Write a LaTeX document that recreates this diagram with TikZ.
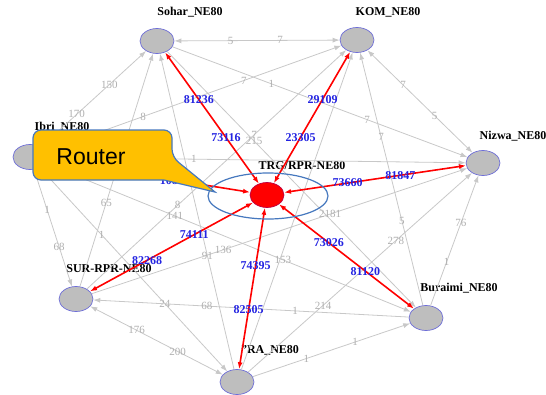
\documentclass[tikz,border=0pt]{standalone}
\usepackage{fontspec}
\setmainfont{Liberation Serif}
\newfontfamily\calloutfont{Liberation Sans}
\usetikzlibrary{
	shapes.geometric,
	arrows.meta,
	positioning
}
\definecolor{LinkGray}{RGB}{200,200,200}
\definecolor{WeightGray}{RGB}{175,175,175}
\definecolor{SiteGray}{RGB}{190,190,190}
\definecolor{SiteBorder}{RGB}{110,110,215}
\definecolor{FlowBlue}{RGB}{35,35,225}
\definecolor{CalloutOrange}{RGB}{255,192,0}
\definecolor{CalloutBlue}{RGB}{70,120,190}

\begin{document}
\begin{tikzpicture}[
		x=1pt, y=-1pt,
		site/.style={ellipse, draw=SiteBorder, fill=SiteGray, line width=0.7pt, minimum width=34pt, minimum height=25pt, inner sep=0pt},
		hub/.style={site, fill=red, draw=red!75!blue},
		sitename/.style={font=\fontsize{12}{12}\selectfont\bfseries, inner sep=0pt},
		link/.style={draw=LinkGray, line width=0.8pt, -{Latex[length=7pt,width=5pt]}},
		twoway/.style={link, {Latex[length=7pt,width=5pt]}-{Latex[length=7pt,width=5pt]}},
		flow/.style={draw=red, line width=1.6pt, {Latex[length=7pt,width=5pt]}-{Latex[length=7pt,width=5pt]}},
		weight/.style={font=\fontsize{11}{11}\selectfont, text=WeightGray, inner sep=0pt},
		volume/.style={font=\fontsize{12}{12}\selectfont\bfseries, text=FlowBlue, inner sep=0pt}
	]
		\useasboundingbox (0,0) rectangle (546,394);
		
		\node[site] (sohar) at (157,41) {};
		\node[site] (kom) at (357,40) {};
		\node[site] (nizwa) at (483,163) {};
		\node[site] (buraimi) at (426,318) {};
		\node[site] (ra) at (237,382) {};
		\node[site] (sur) at (76,299) {};
		\node[site] (ibri) at (30,157) {};
		\node[hub] (trg) at (267,195) {};
		
		\node[sitename] (soharname) at (190,12) {Sohar\_NE80};
		\node[sitename] (komname) at (388,12) {KOM\_NE80};
		\node[sitename] (nizwaname) at (513,136) {Nizwa\_NE80};
		\node[sitename] (buraiminame) at (459,288) {Buraimi\_NE80};
		\node[sitename] (raname) at (270,350) {''RA\_NE80};
		\node[sitename] (surname) at (109,269) {SUR-RPR-NE80};
		\node[sitename] (ibriname) at (62,127) {Ibri\_NE80};
		\node[sitename] (trgname) at (302,166) {TRG/RPR-NE80};
		
		% grey mesh
		\draw[twoway] (sohar) -- node[weight, pos=0.34] {5} node[weight, pos=0.64] {7} (kom);
		\draw[link] (ibri) -- node[weight, pos=0.34] {170} node[weight, pos=0.65] {150} (sohar);
		\draw[link] (ibri) -- node[weight, pos=0.33] {8} node[weight, pos=0.67] {7} (kom);
		\draw[link] (sohar) -- node[weight, pos=0.335] {1} node[weight, pos=0.66] {7} (nizwa);
		\draw[link] (sur) -- node[weight, pos=0.35] {8} node[weight, pos=0.645] {7} (kom);
		\draw[link] (sohar) -- node[weight, pos=0.35] {215} (buraimi);
		\draw[link] (ibri) -- node[weight, pos=0.35] {1} (nizwa);
		\draw[twoway] (kom) -- node[weight, pos=0.34] {7} node[weight, pos=0.64] {5} (nizwa);
		\draw[link] (buraimi) -- node[weight, pos=0.334] {5} node[weight, pos=0.666] {7} (kom);
		\draw[link] (buraimi) -- node[weight, pos=0.334] {1} node[weight, pos=0.634] {76} (nizwa);
		\draw[link] (ra) -- node[weight, pos=0.335] {214} node[weight, pos=0.66] {278} (nizwa);
		\draw[link] (sur) -- node[weight, pos=0.35] {136} node[weight, pos=0.635] {2181} (nizwa);
		\draw[link] (ibri) -- node[weight, pos=0.355] {141} node[weight, pos=0.65] {153} (buraimi);
		\draw[link] (ra) -- node[weight, pos=0.36] {91} (sohar);
		\draw[link] (sur) -- node[weight, pos=0.36] {65} (sohar);
		\draw[link] (ibri) -- node[weight, pos=0.345] {1} node[weight, pos=0.66] {68} (sur);
		\draw[link] (ibri) -- node[weight, pos=0.33] {1} node[weight, pos=0.668] {24} (ra);
		\draw[link] (buraimi) -- node[weight, pos=0.36] {1} node[weight, pos=0.64] {68} (sur);
		\draw[twoway] (sur) -- node[weight, pos=0.35] {176} node[weight, pos=0.66] {200} (ra);
		\draw[link] (ra) -- node[weight, pos=0.34] {1} node[weight, pos=0.65] {1} (buraimi);
		\draw[link] (ra) -- (kom);
		
		% traffic to the hub
		\draw[flow] (sohar) -- node[volume, pos=0.36] {81236} node[volume, pos=0.65] {73116} (trg);
		\draw[flow] (kom) -- node[volume, pos=0.36] {29109} node[volume, pos=0.65] {23305} (trg);
		\draw[flow] (nizwa) -- node[volume, pos=0.36] {81847} node[volume, pos=0.65] {73660} (trg);
		\draw[flow] (buraimi) -- node[volume, pos=0.36] {81120} node[volume, pos=0.63] {73026} (trg);
		\draw[flow] (ra) -- node[volume, pos=0.37] {82505} node[volume, pos=0.64] {74395} (trg);
		\draw[flow] (sur) -- node[volume, pos=0.35] {82268} node[volume, pos=0.64] {74111} (trg);
		\draw[flow] (ibri) -- node[volume, pos=0.63] {10842} (trg);
		
		\node[ellipse, draw=CalloutBlue, line width=1.2pt, minimum width=120pt, minimum height=46pt] (ring) at (268,196) {};
		
		\filldraw[fill=CalloutOrange, draw=CalloutBlue, line width=1.2pt, rounded corners=8pt]
			(33,130) -- (172,130) -- (172,157) [sharp corners] -- (215,192) -- (164,180) [rounded corners=8pt] -- (33,180) -- cycle;
		\node[font=\calloutfont\fontsize{23}{23}\selectfont, inner sep=0pt] (router) at (91,157) {Router};
		
	\end{tikzpicture}
\end{document}
